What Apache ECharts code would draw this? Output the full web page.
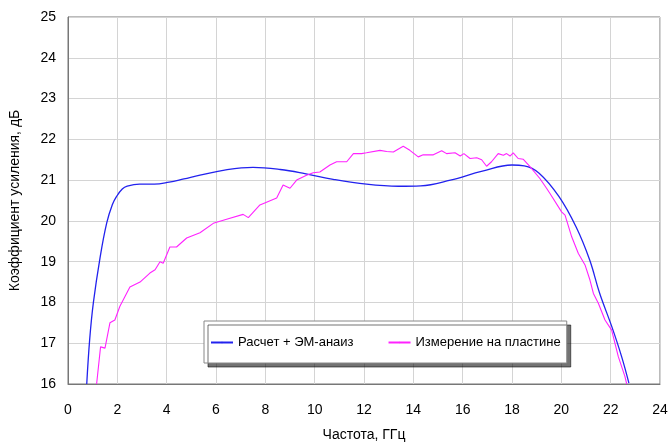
<!DOCTYPE html>
<html>
<head>
<meta charset="utf-8">
<script src="https://cdn.jsdelivr.net/npm/echarts@6/dist/echarts.min.js"></script>
<style>
  html, body { margin: 0; padding: 0; background: #fff; }
  #chart { width: 669px; height: 446px; }
</style>
</head>
<body>
<div id="chart"></div>
<script>
// Расчет + ЭМ-анализ
const calcFreq = [0.76, 0.88, 1.03, 1.3, 1.57, 1.8, 1.97, 2.2, 2.4, 2.9, 3.5, 4.1, 4.7, 5.35, 6.4, 7.5, 8.6, 9.6, 10.75, 12.1, 13.4, 14.3, 15.5, 16.8, 18.0, 18.5, 19.1, 19.9, 20.6, 21.15, 21.55, 22.05, 22.45, 22.74]
const calcGain = [16.0, 17.1, 18.0, 19.1, 19.95, 20.4, 20.6, 20.78, 20.85, 20.9, 20.9, 20.95, 21.03, 21.12, 21.25, 21.31, 21.26, 21.16, 21.02, 20.9, 20.85, 20.86, 21.0, 21.22, 21.37, 21.35, 21.17, 20.6, 19.85, 19.04, 18.23, 17.4, 16.66, 16.02]

// Измерение на пластине
const measFreq = [1.16, 1.32, 1.5, 1.7, 1.9, 2.1, 2.51, 2.92, 3.32, 3.53, 3.73, 3.86, 4.13, 4.4, 4.81, 5.35, 5.89, 6.43, 7.1, 7.31, 7.78, 8.46, 8.72, 9.0, 9.27, 9.67, 9.94, 10.21, 10.62, 10.89, 11.3, 11.57, 11.9, 12.1, 12.65, 12.92, 13.19, 13.59, 13.86, 14.2, 14.4, 14.81, 15.15, 15.35, 15.69, 15.9, 16.05, 16.3, 16.57, 16.77, 16.97, 17.17, 17.44, 17.65, 17.78, 17.92, 18.05, 18.25, 18.46, 18.73, 19.13, 19.4, 19.54, 20.01, 20.15, 20.42, 20.69, 20.96, 21.16, 21.3, 21.5, 21.77, 22.04, 22.31, 22.58, 22.65]
const measGain = [16.0, 16.91, 16.88, 17.5, 17.57, 17.9, 18.38, 18.5, 18.72, 18.8, 19.0, 18.96, 19.36, 19.36, 19.58, 19.71, 19.94, 20.04, 20.16, 20.08, 20.39, 20.56, 20.88, 20.8, 21.0, 21.12, 21.18, 21.2, 21.37, 21.45, 21.45, 21.65, 21.65, 21.67, 21.73, 21.7, 21.69, 21.83, 21.73, 21.57, 21.62, 21.62, 21.72, 21.65, 21.67, 21.59, 21.65, 21.53, 21.55, 21.5, 21.34, 21.45, 21.65, 21.61, 21.65, 21.59, 21.67, 21.53, 21.51, 21.33, 21.04, 20.8, 20.67, 20.22, 20.14, 19.61, 19.2, 18.92, 18.55, 18.22, 17.98, 17.57, 17.32, 16.67, 16.18, 16.0]

const seriesNames = ['Расчет + ЭМ-анаиз', 'Измерение на пластине']

const zip = (xs, ys) => xs.map((x, i) => [x, ys[i]])

const chart = echarts.init(document.getElementById('chart'))

const labelFont = { color: '#000', fontSize: 14, fontFamily: 'Liberation Sans, Arial, sans-serif' }

chart.setOption({
    animation: false,
    textStyle: { fontFamily: 'Liberation Sans, Arial, sans-serif' },
    grid: {
        left: 68, right: 9, top: 17, bottom: 62,
        outerBoundsMode: 'none',
        show: true,
        borderColor: '#777',
        borderWidth: 1
    },
    legend: {
        data: seriesNames,
        orient: 'horizontal',
        left: 204,
        top: 321,
        padding: [15, 6, 14, 6],
        itemGap: 34,
        itemWidth: 22,
        itemHeight: 2,
        backgroundColor: '#fff',
        borderColor: '#888',
        borderWidth: 1,
        shadowColor: 'rgba(0,0,0,0.55)',
        shadowOffsetX: 4,
        shadowOffsetY: 4,
        shadowBlur: 0,
        textStyle: { color: '#000', fontSize: 13, fontFamily: 'Liberation Sans, Arial, sans-serif' }
    },
    xAxis: {
        type: 'value',
        min: 0, max: 24, interval: 2,
        name: 'Частота, ГГц',
        nameLocation: 'middle',
        nameGap: 44,
        nameTextStyle: labelFont,
        axisLine: { lineStyle: { color: '#777' } },
        axisTick: { show: false },
        axisLabel: Object.assign({ margin: 19 }, labelFont),
        splitLine: { lineStyle: { color: '#d4d4d4' } }
    },
    yAxis: {
        type: 'value',
        min: 16, max: 25, interval: 1,
        name: 'Коэффициент усиления, дБ',
        nameLocation: 'middle',
        nameGap: 46,
        nameTextStyle: labelFont,
        axisLine: { show: true, lineStyle: { color: '#777' } },
        axisTick: { show: false },
        axisLabel: Object.assign({ margin: 12 }, labelFont),
        splitLine: { lineStyle: { color: '#d4d4d4' } }
    },
    series: [
        {
            name: seriesNames[0],
            type: 'line',
            smooth: 0.4,
            symbol: 'none',
            data: zip(calcFreq, calcGain),
            lineStyle: { color: '#2222ee', width: 1.3 },
            itemStyle: { color: '#2222ee' }
        },
        {
            name: seriesNames[1],
            type: 'line',
            symbol: 'none',
            data: zip(measFreq, measGain),
            lineStyle: { color: '#ff22ff', width: 1.1 },
            itemStyle: { color: '#ff22ff' }
        }
    ]
})
</script>
</body>
</html>
